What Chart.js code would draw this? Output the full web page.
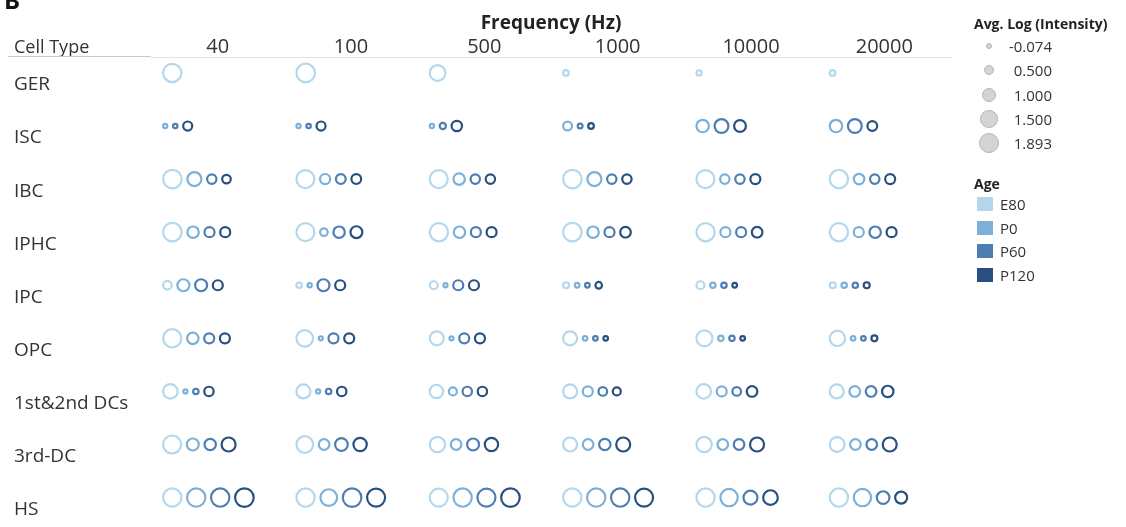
<!DOCTYPE html>
<html>
<head>
<meta charset="utf-8">
<title>Avg. Log (Intensity) by Cell Type, Frequency and Age</title>
<script src="https://cdn.jsdelivr.net/npm/chart.js@4.4.1/dist/chart.umd.min.js"></script>
<style>
    body { margin: 0; background: #fff; font-family: 'Open Sans', sans-serif; color: #333; }
    #wrap { position: relative; width: 1126px; height: 527px; overflow: hidden; }
    #chart { position: absolute; left: 0; top: 0; }
    .panel-letter { position: absolute; left: 4px; top: -12px; font-size: 24px; line-height: 24px; font-weight: bold; color: #111; }
    .row-header { position: absolute; left: 14px; top: 35px; font-size: 18px; line-height: 22px; color: #333; }
    .row-header-line { position: absolute; left: 8px; top: 56px; width: 143px; height: 1px; background: #c9c9c9; }
    .legend { position: absolute; left: 974px; top: 0; width: 152px; height: 300px; }
    .legend-title { position: absolute; left: 0; font-size: 14px; line-height: 18px; font-weight: bold; color: #222; white-space: nowrap; }
    .size-dot { position: absolute; border-radius: 50%; background: #d4d4d4; border: 1px solid #b4b4b4; }
    .size-label { position: absolute; width: 60px; text-align: right; font-size: 15px; line-height: 20px; color: #333; }
    .age-box { position: absolute; left: 3px; width: 16px; height: 14px; }
    .age-label { position: absolute; left: 26px; font-size: 15px; line-height: 20px; color: #333; }
</style>
</head>
<body>
<div id="wrap">
    <canvas id="chart" width="1126" height="527"></canvas>
    <div class="panel-letter">B</div>
    <div class="row-header">Cell Type</div>
    <div class="row-header-line"></div>
    <div class="legend" id="legend"></div>
</div>
<script>
// Kategori dan label
const CELL_TYPES = ['GER', 'ISC', 'IBC', 'IPHC', 'IPC', 'OPC', '1st&2nd DCs', '3rd-DC', 'HS'];
const FREQUENCIES = ['40', '100', '500', '1000', '10000', '20000'];
const AGES = ['E80', 'P0', 'P60', 'P120'];
const AGE_COLORS = ['#b3d8ee', '#7cb0d8', '#4d7db3', '#28507f'];
const SIZE_STEPS = [-0.074, 0.5, 1.0, 1.5, 1.893];

// Avg. Log (Intensity) per age, one row per cell type, one column per frequency
const E80 = [
    [1.85, 1.89, 1.50, 0.14, 0.08, 0.14],
    [null, null, null, null, null, null],
    [1.89, 1.80, 1.81, 1.89, 1.81, 1.85],
    [1.89, 1.81, 1.85, 1.89, 1.85, 1.85],
    [0.54, 0.11, 0.46, 0.19, 0.46, 0.19],
    [1.85, 1.62, 1.27, 1.27, 1.54, 1.45],
    [1.35, 1.27, 1.19, 1.27, 1.35, 1.27],
    [1.81, 1.63, 1.45, 1.27, 1.45, 1.36],
    [1.85, 1.85, 1.81, 1.85, 1.85, 1.85]
];
const P0 = [
    [null, null, null, null, null, null],
    [-0.05, -0.05, -0.05, 0.58, 1.06, 1.06],
    [1.27, 0.75, 0.92, 1.27, 0.65, 0.81],
    [0.92, 0.40, 0.92, 0.92, 0.73, 0.73],
    [1.00, -0.05, -0.07, 0.00, 0.11, 0.11],
    [0.92, -0.07, -0.07, 0.00, 0.11, 0.00],
    [-0.074, -0.07, 0.46, 0.73, 0.73, 0.81],
    [1.00, 0.81, 0.81, 0.81, 0.81, 0.81],
    [1.85, 1.63, 1.85, 1.85, 1.72, 1.72]
];
const P60 = [
    [null, null, null, null, null, null],
    [-0.02, -0.02, 0.22, 0.03, 1.25, 1.25],
    [0.65, 0.70, 0.65, 0.65, 0.65, 0.65],
    [0.73, 0.92, 0.73, 0.73, 0.73, 0.92],
    [1.00, 1.00, 0.73, 0.00, 0.11, 0.11],
    [0.73, 0.73, 0.73, 0.00, 0.11, 0.00],
    [0.11, 0.11, 0.65, 0.54, 0.54, 0.81],
    [0.92, 1.09, 1.00, 0.92, 0.81, 0.81],
    [1.85, 1.89, 1.81, 1.85, 1.27, 1.09]
];
const P120 = [
    [null, null, null, null, null, null],
    [0.60, 0.60, 0.78, 0.14, 0.97, 0.69],
    [0.54, 0.70, 0.65, 0.65, 0.73, 0.73],
    [0.73, 0.98, 0.73, 0.81, 0.81, 0.73],
    [0.73, 0.73, 0.73, 0.27, 0.00, 0.19],
    [0.73, 0.73, 0.73, 0.00, 0.00, 0.19],
    [0.65, 0.65, 0.65, 0.46, 0.81, 0.92],
    [1.27, 1.18, 1.18, 1.27, 1.27, 1.27],
    [1.893, 1.81, 1.89, 1.81, 1.36, 1.00]
];
const SERIES = [E80, P0, P60, P120];

// Ukuran tata letak
const PAD_LEFT = 14;
const PAD_BOTTOM = 14;
const PLOT_LEFT = 151;
const PLOT_RIGHT = 951;
const PLOT_TOP = 57;
const COL_PX = (PLOT_RIGHT - PLOT_LEFT) / FREQUENCIES.length;
const CELL_PAD = 11;
const GAP = 3.5;
const STROKE = 2.2;
const FONT = "'Open Sans', sans-serif";

// Radius lingkaran dari nilai intensitas
function radiusFor(value) {
    return 3.7 * value + 2.3;
}

// Circles of one cell sit side by side, so the x offset depends on the earlier ages
function buildPoints(ageIndex) {
    const points = [];
    CELL_TYPES.forEach((cellType, row) => {
        FREQUENCIES.forEach((freq, col) => {
            let offset = CELL_PAD;
            for (let a = 0; a < AGES.length; a++) {
                const value = SERIES[a][row][col];
                if (value === null) continue;
                const r = radiusFor(value);
                const outer = r + STROKE / 2;
                if (a === ageIndex) {
                    points.push({ x: col + (offset + outer) / COL_PX, y: row, r: r, v: value });
                }
                offset += outer * 2 + GAP;
            }
        });
    });
    return points;
}

const datasets = AGES.map((age, i) => ({
    label: age,
    data: buildPoints(i),
    borderColor: AGE_COLORS[i],
    backgroundColor: 'rgba(255,255,255,0)',
    borderWidth: STROKE,
    clip: false
}));

Chart.defaults.font.family = FONT;
Chart.defaults.color = '#333';

const ctx = document.getElementById('chart').getContext('2d');
new Chart(ctx, {
    type: 'bubble',
    data: { datasets: datasets },
    options: {
        responsive: false,
        animation: false,
        events: [],
        layout: {
            autoPadding: false,
            padding: { left: PAD_LEFT, right: 1126 - PLOT_RIGHT, top: 0, bottom: PAD_BOTTOM }
        },
        plugins: {
            legend: { display: false },
            tooltip: { enabled: false }
        },
        scales: {
            x: {
                type: 'linear',
                position: 'top',
                min: 0,
                max: FREQUENCIES.length,
                grid: { display: false, drawTicks: false },
                border: { display: true, color: '#e2e2e2', width: 1 },
                afterBuildTicks: scale => {
                    scale.ticks = FREQUENCIES.map((f, i) => ({ value: i + 0.5 }));
                },
                afterFit: scale => {
                    scale.height = PLOT_TOP;
                },
                ticks: {
                    autoSkip: false,
                    maxRotation: 0,
                    padding: 0,
                    color: '#333',
                    font: { size: 20, lineHeight: 1.0 },
                    callback: (value, index) => FREQUENCIES[index]
                },
                title: {
                    display: true,
                    text: 'Frequency (Hz)',
                    color: '#222',
                    font: { size: 19, weight: 'bold', lineHeight: 1.2 },
                    padding: { top: 12, bottom: 0 }
                }
            },
            y: {
                type: 'linear',
                reverse: true,
                min: -0.3,
                max: 8.29,
                grid: { display: false, drawTicks: false },
                border: { display: false },
                afterBuildTicks: scale => {
                    scale.ticks = CELL_TYPES.map((c, i) => ({ value: i }));
                },
                afterFit: scale => {
                    scale.width = PLOT_LEFT - PAD_LEFT;
                },
                ticks: {
                    autoSkip: false,
                    crossAlign: 'far',
                    labelOffset: 12,
                    padding: 0,
                    color: '#333',
                    font: { size: 19 },
                    callback: value => CELL_TYPES[value]
                }
            }
        }
    }
});

// Legenda ukuran dan usia
function buildLegend() {
    const legend = document.getElementById('legend');
    let html = '<div class="legend-title" style="top:15px">Avg. Log (Intensity)</div>';
    SIZE_STEPS.forEach((v, i) => {
        const cy = 46 + i * 24.3;
        const r = radiusFor(v);
        html += `<div class="size-dot" style="left:${15 - r - 1}px;top:${cy - r - 1}px;width:${r * 2}px;height:${r * 2}px"></div>`;
        html += `<div class="size-label" style="left:18px;top:${cy - 10}px">${v.toFixed(3)}</div>`;
    });
    html += '<div class="legend-title" style="top:175px">Age</div>';
    AGES.forEach((age, i) => {
        const cy = 204 + i * 23.6;
        html += `<div class="age-box" style="top:${cy - 7}px;background:${AGE_COLORS[i]}"></div>`;
        html += `<div class="age-label" style="top:${cy - 10}px">${age}</div>`;
    });
    legend.innerHTML = html;
}

buildLegend();
</script>
</body>
</html>
